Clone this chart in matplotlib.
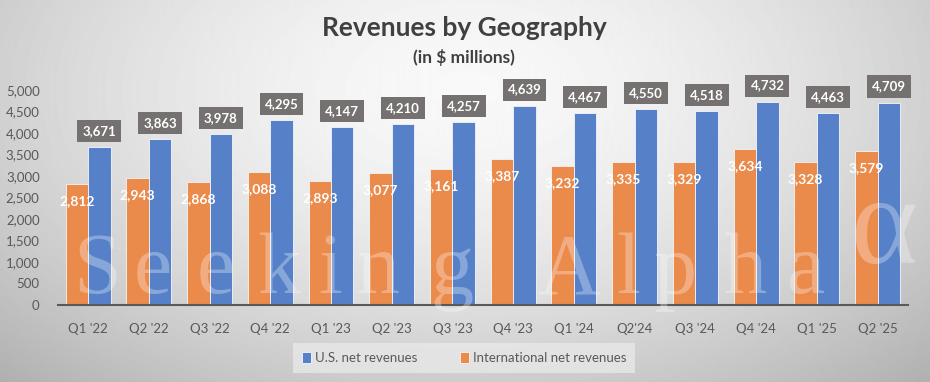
import numpy as np
import matplotlib.pyplot as plt

# data
quarters = ["Q1 '22", "Q2 '22", "Q3 '22", "Q4 '22", "Q1 '23", "Q2 '23", "Q3 '23",
            "Q4 '23", "Q1 '24", "Q2'24", "Q3 '24", "Q4 '24", "Q1 '25", "Q2 '25"]
us_rev = [3671, 3863, 3978, 4295, 4147, 4210, 4257, 4639, 4467, 4550, 4518, 4732, 4463, 4709]
intl_rev = [2812, 2943, 2868, 3088, 2893, 3077, 3161, 3387, 3232, 3335, 3329, 3634, 3328, 3579]
yticks = list(range(0, 5001, 500))

blue = '#5681C9'
orange = '#EB8B4B'
box_gray = '#767171'
txt_gray = '#595959'
W, H = 930, 382

plt.rcParams['font.family'] = ['Lato', 'DejaVu Sans']

fig = plt.figure(figsize=(9.3, 3.82), dpi=100)

# radial gray background
bg = fig.add_axes([0, 0, 1, 1], zorder=0)
yy, xx = np.mgrid[0:H, 0:W]
r = np.sqrt(((xx - 465) / 560.0) ** 2 + ((yy - 90) / 330.0) ** 2)
shade = 0.975 - 0.21 * np.clip(r, 0, 1.3) ** 1.6
bg.imshow(shade, cmap='gray', vmin=0, vmax=1, aspect='auto', extent=[0, W, H, 0])
bg.set_xlim(0, W)
bg.set_ylim(H, 0)
bg.axis('off')

ax = fig.add_axes([57.7 / W, 1 - 305 / H, (908 - 57.7) / W, 235 / H], zorder=1)
ax.patch.set_alpha(0)

x = np.arange(len(quarters))
w = 0.37
b_int = ax.bar(x - w / 2, intl_rev, w, color=orange, edgecolor='#f3ece6', linewidth=0.7,
               label='International net revenues', zorder=2)
b_us = ax.bar(x + w / 2, us_rev, w, color=blue, edgecolor='#e8eef8', linewidth=0.7,
              label='U.S. net revenues', zorder=2)

for xi, v in zip(x, us_rev):
    ax.annotate(f'{v:,}', (xi + w / 2, v), xytext=(0, 16), textcoords='offset pixels',
                ha='center', va='center', color='white', fontsize=9.5, fontweight='bold',
                bbox=dict(boxstyle='square,pad=0.38', fc=box_gray, ec='none'),
                zorder=5, annotation_clip=False)
for xi, v in zip(x, intl_rev):
    ax.annotate(f'{v:,}', (xi - w / 2, v), xytext=(0, -17), textcoords='offset pixels',
                ha='center', va='center', color='white', fontsize=10, fontweight='bold',
                zorder=5)

ax.set_xlim(-0.5, len(quarters) - 0.5)
ax.set_ylim(0, 5465)
ax.set_yticks(yticks)
ax.set_yticklabels([f'{t:,}' for t in yticks])
ax.set_xticks(x)
ax.set_xticklabels(quarters)
ax.tick_params(axis='both', length=0, colors=txt_gray, labelsize=9.5)
ax.tick_params(axis='x', pad=13)
ax.tick_params(axis='y', pad=13)
for s in ['top', 'right', 'left']:
    ax.spines[s].set_visible(False)
ax.spines['bottom'].set_color('#595959')
ax.spines['bottom'].set_linewidth(1.5)

# watermark
wm = fig.add_axes([0, 0, 1, 1], zorder=3)
wm.set_xlim(0, W)
wm.set_ylim(H, 0)
wm.axis('off')
chars = list('SeekingAlpha')
cx = [97, 153, 216, 279, 330, 378, 452, 568, 628, 675, 745, 806]
for c, px in zip(chars, cx):
    wm.text(px, 293, c, ha='center', va='baseline', fontsize=62, color='white',
            alpha=0.3, family='Liberation Serif')
wm.text(884, 232, '\u03b1', ha='center', va='center', fontsize=92, color='white',
        alpha=0.3, family='Liberation Serif')

fig.text(464 / W, 1 - 28 / H, 'Revenues by Geography', ha='center', va='center',
         fontsize=19, fontweight='bold', color='#404040')
fig.text(464 / W, 1 - 58 / H, '(in $ millions)', ha='center', va='center',
         fontsize=12.5, fontweight='bold', color='#404040')

leg = fig.legend(handles=[b_us, b_int], labels=['U.S. net revenues', 'International net revenues'],
                 loc='center', bbox_to_anchor=(464 / W, 1 - 358 / H), ncol=2, frameon=True,
                 fontsize=9.5, handlelength=0.7, handleheight=0.9, handletextpad=0.3,
                 columnspacing=3.2, borderpad=0.7, borderaxespad=0, fancybox=False)
leg.get_frame().set_facecolor('#e8e8e8')
leg.get_frame().set_edgecolor('none')
for t in leg.get_texts():
    t.set_color(txt_gray)

fig.savefig('out.png', dpi=100)
